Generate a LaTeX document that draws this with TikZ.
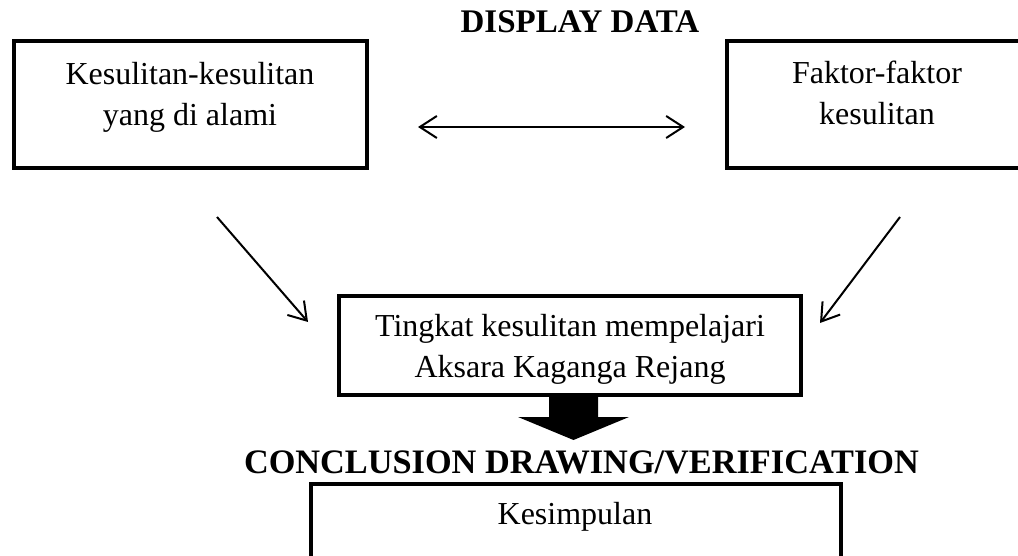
\documentclass[tikz,border=0pt]{standalone}
\usepackage{fontspec}
\setmainfont{Liberation Serif}
\usetikzlibrary{arrows.meta}

\tikzset{
  frame/.style={draw=black, line width=4pt, fill=white, inner sep=0pt},
  boxtext/.style={align=center, inner sep=0pt, font=\fontsize{32}{41}\selectfont},
  heading/.style={inner sep=0pt, font=\fontsize{33}{40}\selectfont\bfseries},
  barb/.tip={Straight Barb[length=17pt, width=22pt, line width=2pt]},
  link/.style={line width=2pt, -{barb}},
  bothlink/.style={line width=2pt, {barb}-{barb}},
  bigarrow/.style={fill=black, draw=none}
}

\begin{document}
\begin{tikzpicture}[x=1pt, y=-1pt]
  \useasboundingbox (0,0) rectangle (1018,556);
  \clip (0,0) rectangle (1018,556);

  % headings
  \node[heading] (display) at (580,22) {DISPLAY DATA};
  \node[heading, font=\fontsize{34.3}{40}\selectfont\bfseries] (conclusion) at (581.5,462) {CONCLUSION DRAWING/VERIFICATION};

  % boxes
  \node[frame, minimum width=353pt, minimum height=127pt] (left) at (190.5,104.5) {};
  \node[frame, minimum width=373pt, minimum height=127pt] (right) at (913.5,104.5) {};
  \node[frame, minimum width=462pt, minimum height=99pt] (mid) at (570,345.5) {};
  \node[frame, minimum width=530pt, minimum height=130pt] (bottom) at (576,549) {};

  % box texts
  \node[boxtext] (lefttext) at (190,97) {Kesulitan-kesulitan\\yang di alami};
  \node[boxtext] (righttext) at (877,92.5) {Faktor-faktor\\kesulitan};
  \node[boxtext] (midtext) at (570,349) {Tingkat kesulitan mempelajari\\Aksara Kaganga Rejang};
  \node[boxtext] (bottomtext) at (575,517) {Kesimpulan};

  % connectors
  \coordinate (dl) at (418,127);
  \coordinate (dr) at (685,127);
  \draw[bothlink] (dl) -- (dr);

  \coordinate (la) at (217,217);
  \coordinate (lb) at (308,322);
  \draw[link] (la) -- (lb);

  \coordinate (ra) at (900,217);
  \coordinate (rb) at (820,323);
  \draw[link] (ra) -- (rb);

  % block arrow from the middle box down to the conclusion
  \path[bigarrow] (549,395) -- (598,395) -- (598,417) -- (629,417)
    -- (573.5,440) -- (518,417) -- (549,417) -- cycle;
\end{tikzpicture}
\end{document}
